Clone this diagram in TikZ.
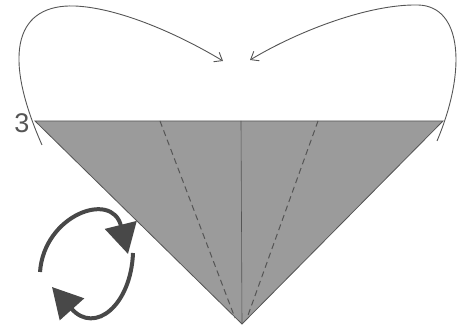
\documentclass[tikz,border=0pt]{standalone}
\usepackage{fontspec}
\setmainfont{Liberation Sans}
\usetikzlibrary{arrows.meta}
\definecolor{paper}{RGB}{155,155,155}
\definecolor{ink}{RGB}{85,85,85}
\tikzset{
  fold/.style={draw=ink, line width=0.8pt},
  crease/.style={draw=ink, line width=1pt, dash pattern=on 6pt off 4pt},
  movearrow/.style={draw=ink, line width=0.9pt, -{Straight Barb[length=7pt,width=11pt]}},
  turnarrow/.style={draw=ink!85!black, line width=4pt, -{Triangle[length=30pt,width=32pt]}}
}
\begin{document}
\begin{tikzpicture}[x=1pt,y=-1pt]
\useasboundingbox (0,0) rectangle (468,328);
\coordinate (tl) at (35,121);
\coordinate (tr) at (443,121);
\coordinate (ap) at (242,324);
\coordinate (tm) at (241,121);
\coordinate (dl) at (160,121);
\coordinate (dr) at (318,121);
\coordinate (dlb) at (235,318);
\coordinate (drb) at (247,318);
\filldraw[fill=paper, fold] (tl) -- (tr) -- (ap) -- cycle;
\draw[fold, line width=0.6pt] (tm) -- (ap);
\draw[crease] (dl) -- (dlb);
\draw[crease] (dr) -- (drb);
% move arrows
\coordinate (ls) at (42,145);
\coordinate (le) at (223,61);
\coordinate (rs) at (437,141);
\coordinate (re) at (250,60);
\draw[movearrow] (ls) .. controls (0,50) and (18,4) .. (75,6) .. controls (120,8) and (180,35) .. (le);
\draw[movearrow] (rs) .. controls (467,70) and (462,6) .. (418,5) .. controls (370,4) and (300,30) .. (re);
\node[text=ink, font=\fontsize{27}{27}\selectfont, inner sep=0pt] (three) at (22,123) {3};
% turn over symbol
\coordinate (ua) at (40,272);
\coordinate (ub) at (128,254);
\coordinate (la) at (133,253);
\coordinate (lb) at (52,287);
\draw[turnarrow] (ua) .. controls (44,215) and (112,190) .. (ub);
\draw[turnarrow] (la) .. controls (131,305) and (95,335) .. (lb);
\end{tikzpicture}
\end{document}
